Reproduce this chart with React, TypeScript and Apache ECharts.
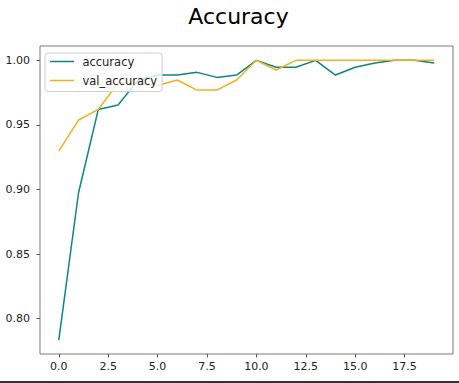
import React, { useEffect, useRef } from "react";
import * as echarts from "echarts";

const epochs = [0, 1, 2, 3, 4, 5, 6, 7, 8, 9, 10, 11, 12, 13, 14, 15, 16, 17, 18, 19];
const accuracy = [0.7835, 0.8975, 0.962, 0.9654, 0.9845, 0.9886, 0.9886, 0.9907, 0.9868, 0.9886, 1.0, 0.9946, 0.9946, 1.0, 0.9886, 0.9946, 0.998, 1.0, 1.0, 0.998];
const valAccuracy = [0.9298, 0.9538, 0.962, 0.9825, 0.9825, 0.9805, 0.9848, 0.977, 0.977, 0.9848, 1.0, 0.9925, 1.0, 1.0, 1.0, 1.0, 1.0, 1.0, 1.0, 1.0];
const xTicks = [0, 2.5, 5, 7.5, 10, 12.5, 15, 17.5];
const yTicks = [0.8, 0.85, 0.9, 0.95, 1.0];

const FONT = "DejaVu Sans";
const TEAL = "#0a8585";
const ORANGE = "#f9ad1e";

export default function App() {
  const ref = useRef<HTMLDivElement>(null);
  useEffect(() => {
    if (!ref.current) return;
    const chart = echarts.init(ref.current, undefined, { renderer: "svg" });
    chart.setOption({
      animation: false,
      backgroundColor: "#ffffff",
      textStyle: { fontFamily: FONT },
      graphic: [
        {
          type: "text",
          x: 238.5,
          y: 16.4,
          style: {
            text: "Accuracy",
            fontSize: 22,
            fontFamily: FONT,
            fill: "#000",
            align: "center",
            verticalAlign: "middle",
          },
        },
        {
          type: "rect",
          shape: { x: 0, y: 381, width: 459, height: 2 },
          style: { fill: "#333" },
        },
      ],
      grid: {
        left: 40,
        top: 46,
        width: 413,
        height: 308,
        show: true,
        borderColor: "#7a7a7a",
        borderWidth: 1,
        backgroundColor: "transparent",
      },
      legend: {
        orient: "vertical",
        left: 45,
        top: 53,
        icon: "rect",
        itemWidth: 24,
        itemHeight: 1.5,
        itemGap: 7,
        padding: [2.5, 5, 5, 5],
        backgroundColor: "rgba(255,255,255,0.8)",
        borderColor: "#d0d0d0",
        borderWidth: 1,
        borderRadius: 3,
        textStyle: { fontFamily: FONT, fontSize: 11.5, color: "#222", padding: [0, 0, 0, 3.4] },
        data: ["accuracy", "val_accuracy"],
      },
      xAxis: {
        type: "value",
        min: -0.95,
        max: 19.95,
        axisLine: { show: false, onZero: false },
        splitLine: { show: false },
        axisTick: { show: true, inside: false, length: 3.5, lineStyle: { color: "#555" }, customValues: xTicks },
        axisLabel: {
          customValues: xTicks,
          formatter: (v: number) => v.toFixed(1),
          fontFamily: FONT,
          fontSize: 11,
          color: "#222",
          margin: 7,
        },
      },
      yAxis: {
        type: "value",
        min: 0.7727,
        max: 1.0111,
        axisLine: { show: false, onZero: false },
        splitLine: { show: false },
        axisTick: { show: true, inside: false, length: 3.5, lineStyle: { color: "#555" }, customValues: yTicks },
        axisLabel: {
          customValues: yTicks,
          formatter: (v: number) => v.toFixed(2),
          fontFamily: FONT,
          fontSize: 11,
          color: "#222",
          margin: 10,
        },
      },
      series: [
        {
          name: "accuracy",
          type: "line",
          symbol: "none",
          data: epochs.map((e, i) => [e, accuracy[i]]),
          lineStyle: { color: TEAL, width: 1.5 },
          itemStyle: { color: TEAL },
        },
        {
          name: "val_accuracy",
          type: "line",
          symbol: "none",
          data: epochs.map((e, i) => [e, valAccuracy[i]]),
          lineStyle: { color: ORANGE, width: 1.5 },
          itemStyle: { color: ORANGE },
        },
      ],
    });
    return () => chart.dispose();
  }, []);
  return (
    <div
      ref={ref}
      style={{ position: "fixed", left: 0, top: 0, width: 459, height: 383 }}
    />
  );
}
